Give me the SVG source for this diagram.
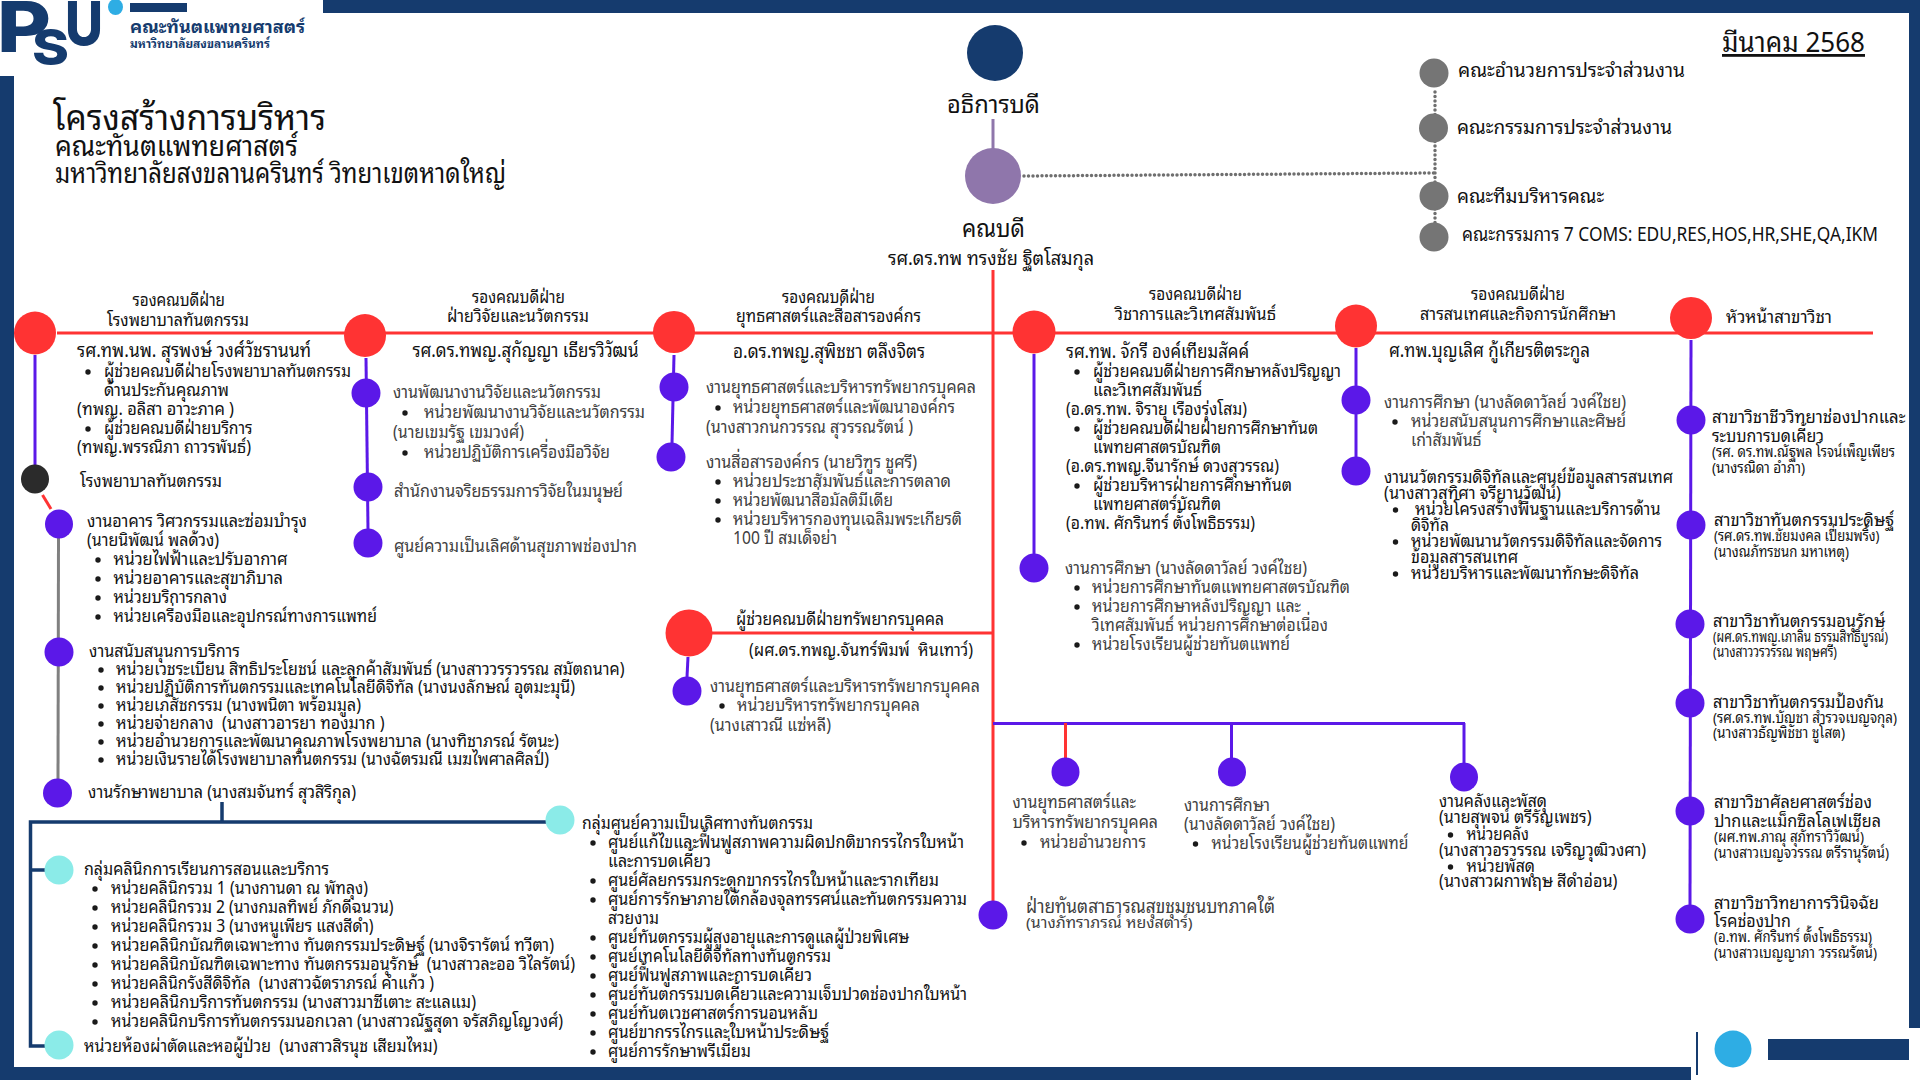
<svg xmlns="http://www.w3.org/2000/svg" width="1920" height="1080" viewBox="0 0 1920 1080">
<style>
text{font-family:"Noto Sans Thai Looped","Noto Sans Thai","Noto Sans","Liberation Sans",sans-serif;font-size:18px;fill:#111;white-space:pre}
.g{fill:#404040}
.s{font-size:15px}
.m{font-size:19px}
.h{font-size:20px}
.n{fill:#153b6e}
.nv{fill:#153b6e}
.red{fill:#f33}
.pur{fill:#5b18e8}
.teal{fill:#8bebe8}
.gry{fill:#757575}
.bu{fill:#1a1a1a}
.lr{stroke:#f33;stroke-width:3;fill:none}
.lp{stroke:#5b18e8;stroke-width:3;fill:none}
.ln{stroke:#153b6e;stroke-width:3.500;fill:none}
.lg{stroke:#808080;stroke-width:3;fill:none}
.ld{stroke:#6f6f6f;stroke-width:3.500;fill:none;stroke-dasharray:0 4.500;stroke-linecap:round}
</style>
<defs><circle id="b" r="2.7" class="bu"/></defs>
<rect width="1920" height="1080" fill="#fff"/>
<g id="frame">
<rect class="nv" x="323" y="0" width="1597" height="13"/>
<rect class="nv" x="0" y="76" width="14" height="1004"/>
<rect class="nv" x="1909" y="0" width="11" height="1028"/>
<rect class="nv" x="0" y="1067" width="1691" height="13"/>
<rect class="nv" x="1696" y="1032" width="2" height="43"/>
<circle cx="1733" cy="1049" r="18.5" fill="#2eade4"/>
<rect class="nv" x="1768" y="1039" width="141" height="21"/>
</g>
<g id="logo">
<text x="-3" y="52" class="n" style="font-family:'Inter';font-weight:800;font-size:70px" textLength="54" lengthAdjust="spacingAndGlyphs">P</text>
<text x="32" y="65" class="n" style="font-family:'Inter';font-weight:800;font-size:50px" textLength="37" lengthAdjust="spacingAndGlyphs">S</text>
<text x="65" y="45" class="n" style="font-family:'Inter';font-weight:800;font-size:60px" textLength="38" lengthAdjust="spacingAndGlyphs">U</text>
<ellipse cx="115.500" cy="7" rx="7.500" ry="8" fill="#2eade4"/>
<rect class="nv" x="130" y="3" width="57" height="9"/>
<text x="130" y="33" class="n" style="font-weight:700;font-size:17px" textLength="175" lengthAdjust="spacingAndGlyphs">คณะทันตแพทยศาสตร์</text>
<text x="130" y="48" class="n" style="font-weight:700;font-size:12px" textLength="140" lengthAdjust="spacingAndGlyphs">มหาวิทยาลัยสงขลานครินทร์</text>
</g>
<g id="title">
<text x="53" y="130" style="font-size:35px" textLength="273" lengthAdjust="spacingAndGlyphs">โครงสร้างการบริหาร</text>
<text x="55" y="156" style="font-size:28px" textLength="243" lengthAdjust="spacingAndGlyphs">คณะทันตแพทยศาสตร์</text>
<text x="55" y="183" style="font-size:28px" textLength="451" lengthAdjust="spacingAndGlyphs">มหาวิทยาลัยสงขลานครินทร์ วิทยาเขตหาดใหญ่</text>
<text x="1722" y="52" style="font-size:28px;text-decoration:underline" textLength="143" lengthAdjust="spacingAndGlyphs">มีนาคม 2568</text>
</g>
<g id="connectors">
<line class="lr" x1="57" y1="333" x2="1873" y2="333"/>
<line class="lr" x1="993" y1="270" x2="993" y2="902"/>
<line class="lr" x1="712" y1="633" x2="993" y2="633"/>
<line class="lp" x1="993" y1="723.500" x2="1465" y2="723.500"/>
<line class="lr" x1="1065.500" y1="723" x2="1065.500" y2="758"/>
<line class="lp" x1="1231.500" y1="723" x2="1231.500" y2="758"/>
<line class="lp" x1="1464" y1="723" x2="1464" y2="764"/>
<line x1="993" y1="119" x2="993" y2="150" stroke="#8f76ab" stroke-width="3"/>
<path class="ld" d="M1024 176 1435 173M1435 92V225"/>
<line class="lp" x1="35" y1="355" x2="35" y2="466"/>
<line class="lr" x1="42.500" y1="495" x2="51" y2="509"/>
<line class="lg" x1="58.500" y1="538" x2="58" y2="780"/>
<path class="ln" d="M222 802V822M547 822H30.500V1046H45M30.500 870H45"/>
<line class="lp" x1="366" y1="358" x2="368" y2="530"/>
<line class="lp" x1="674" y1="355" x2="672" y2="444"/>
<line class="lp" x1="688" y1="657" x2="687" y2="677"/>
<line class="lp" x1="1034" y1="354" x2="1034" y2="554"/>
<line class="lp" x1="1356" y1="348" x2="1356" y2="457"/>
<line class="lp" x1="1691" y1="340" x2="1690" y2="906"/>
</g>
<g id="rector">
<ellipse cx="995" cy="53" rx="28" ry="28" class="nv"/>
<text x="947" y="113" style="font-size:24px" textLength="93" lengthAdjust="spacingAndGlyphs">อธิการบดี</text>
</g>
<g id="dean">
<ellipse cx="993" cy="176" rx="28" ry="28" fill="#8f76ab"/>
<text x="962" y="237" style="font-size:24px" textLength="63" lengthAdjust="spacingAndGlyphs">คณบดี</text>
<text x="888" y="265" class="h" textLength="206" lengthAdjust="spacingAndGlyphs">รศ.ดร.ทพ ทรงชัย ฐิตโสมกุล</text>
</g>
<g id="committees">
<ellipse cx="1434" cy="73" rx="14.500" ry="14.500" class="gry"/>
<text x="1458" y="77" class="m" textLength="227" lengthAdjust="spacingAndGlyphs">คณะอำนวยการประจำส่วนงาน</text>
<ellipse cx="1433.500" cy="128" rx="14.500" ry="14.500" class="gry"/>
<text x="1457" y="134" class="m" textLength="215" lengthAdjust="spacingAndGlyphs">คณะกรรมการประจำส่วนงาน</text>
<ellipse cx="1434" cy="196" rx="14.500" ry="14.500" class="gry"/>
<text x="1457" y="203" class="m" textLength="147" lengthAdjust="spacingAndGlyphs">คณะทีมบริหารคณะ</text>
<ellipse cx="1434" cy="237" rx="14.500" ry="14.500" class="gry"/>
<text x="1462" y="241" class="m" textLength="416" lengthAdjust="spacingAndGlyphs">คณะกรรมการ 7 COMS: EDU,RES,HOS,HR,SHE,QA,IKM</text>
</g>
<g id="vd-hospital">
<ellipse cx="35" cy="333" rx="21" ry="21.500" class="red"/>
<text x="132.500" y="306" textLength="92.500" lengthAdjust="spacingAndGlyphs">รองคณบดีฝ่าย</text>
<text x="107" y="326" textLength="142" lengthAdjust="spacingAndGlyphs">โรงพยาบาลทันตกรรม</text>
<text x="77" y="357" class="m" textLength="234" lengthAdjust="spacingAndGlyphs">รศ.ทพ.นพ. สุรพงษ์ วงศ์วัชรานนท์</text>
<use href="#b" x="88" y="372"/><text x="104" y="377" textLength="247" lengthAdjust="spacingAndGlyphs">ผู้ช่วยคณบดีฝ่ายโรงพยาบาลทันตกรรม</text>
<text x="104" y="396" textLength="125" lengthAdjust="spacingAndGlyphs">ด้านประกันคุณภาพ</text>
<text x="77" y="415" textLength="157" lengthAdjust="spacingAndGlyphs">(ทพญ. อลิสา อาวะภาค )</text>
<use href="#b" x="88" y="429"/><text x="104" y="434" textLength="148.500" lengthAdjust="spacingAndGlyphs">ผู้ช่วยคณบดีฝ่ายบริการ</text>
<text x="77" y="453" textLength="174" lengthAdjust="spacingAndGlyphs">(ทพญ.พรรณิภา ถาวรพันธ์)</text>
</g>
<g id="hospital">
<ellipse cx="35" cy="479" rx="14" ry="14.500" fill="#2b2b2b"/>
<text x="80" y="487" textLength="142" lengthAdjust="spacingAndGlyphs">โรงพยาบาลทันตกรรม</text>
</g>
<g id="building">
<ellipse cx="59" cy="524" rx="14" ry="14.500" class="pur"/>
<text x="87" y="527" textLength="220" lengthAdjust="spacingAndGlyphs">งานอาคาร วิศวกรรมและซ่อมบำรุง</text>
<text x="87" y="546" textLength="132" lengthAdjust="spacingAndGlyphs">(นายนิพัฒน์ พลด้วง)</text>
<use href="#b" x="98" y="560"/><text x="113.500" y="565" textLength="174" lengthAdjust="spacingAndGlyphs">หน่วยไฟฟ้าและปรับอากาศ</text>
<use href="#b" x="98" y="579"/><text x="113.500" y="584" textLength="169.500" lengthAdjust="spacingAndGlyphs">หน่วยอาคารและสุขาภิบาล</text>
<use href="#b" x="98" y="598"/><text x="113.500" y="603" textLength="113.500" lengthAdjust="spacingAndGlyphs">หน่วยบริการกลาง</text>
<use href="#b" x="98" y="617"/><text x="113.500" y="622" textLength="263.500" lengthAdjust="spacingAndGlyphs">หน่วยเครื่องมือและอุปกรณ์ทางการแพทย์</text>
</g>
<g id="service-support">
<ellipse cx="59" cy="652" rx="14.500" ry="14.500" class="pur"/>
<text x="89" y="657" textLength="151" lengthAdjust="spacingAndGlyphs">งานสนับสนุนการบริการ</text>
<use href="#b" x="101" y="670"/><text x="116" y="675" textLength="508.500" lengthAdjust="spacingAndGlyphs">หน่วยเวชระเบียน สิทธิประโยชน์ และลูกค้าสัมพันธ์ (นางสาววรรวรรณ สมัตถนาค)</text>
<use href="#b" x="101" y="688"/><text x="116" y="693" textLength="459" lengthAdjust="spacingAndGlyphs">หน่วยปฏิบัติการทันตกรรมและเทคโนโลยีดิจิทัล (นางนงลักษณ์ อุตมะมุนี)</text>
<use href="#b" x="101" y="706"/><text x="116" y="711" textLength="245" lengthAdjust="spacingAndGlyphs">หน่วยเภสัชกรรม (นางพนิตา พร้อมมูล)</text>
<use href="#b" x="101" y="724"/><text x="116" y="729" textLength="268.500" lengthAdjust="spacingAndGlyphs">หน่วยจ่ายกลาง  (นางสาวอารยา ทองมาก )</text>
<use href="#b" x="101" y="742"/><text x="116" y="747" textLength="443" lengthAdjust="spacingAndGlyphs">หน่วยอำนวยการและพัฒนาคุณภาพโรงพยาบาล (นางทิชาภรณ์ รัตนะ)</text>
<use href="#b" x="101" y="760"/><text x="116" y="765" textLength="433" lengthAdjust="spacingAndGlyphs">หน่วยเงินรายได้โรงพยาบาลทันตกรรม (นางฉัตรมณี เมฆไพศาลศิลป์)</text>
</g>
<g id="nursing">
<ellipse cx="57.500" cy="793" rx="14.500" ry="14.500" class="pur"/>
<text x="88" y="798" textLength="268" lengthAdjust="spacingAndGlyphs">งานรักษาพยาบาล (นางสมจันทร์ สุวสิริกุล)</text>
</g>
<g id="clinics">
<ellipse cx="59" cy="870" rx="14.500" ry="14.500" class="teal"/>
<text x="84" y="875" textLength="245" lengthAdjust="spacingAndGlyphs">กลุ่มคลินิกการเรียนการสอนและบริการ</text>
<use href="#b" x="95" y="889"/><text x="111" y="894" textLength="257" lengthAdjust="spacingAndGlyphs">หน่วยคลินิกรวม 1 (นางกานดา ณ พัทลุง)</text>
<use href="#b" x="95" y="908"/><text x="111" y="913" textLength="282.500" lengthAdjust="spacingAndGlyphs">หน่วยคลินิกรวม 2 (นางกมลทิพย์ ภักดีฉนวน)</text>
<use href="#b" x="95" y="927"/><text x="111" y="932" textLength="262.500" lengthAdjust="spacingAndGlyphs">หน่วยคลินิกรวม 3 (นางหนูเพียร แสงสีดำ)</text>
<use href="#b" x="95" y="946"/><text x="111" y="951" textLength="443" lengthAdjust="spacingAndGlyphs">หน่วยคลินิกบัณฑิตเฉพาะทาง ทันตกรรมประดิษฐ์ (นางจิรารัตน์ ทวีตา)</text>
<use href="#b" x="95" y="965"/><text x="111" y="970" textLength="464" lengthAdjust="spacingAndGlyphs">หน่วยคลินิกบัณฑิตเฉพาะทาง ทันตกรรมอนุรักษ์  (นางสาวละออ วิไลรัตน์)</text>
<use href="#b" x="95" y="984"/><text x="111" y="989" textLength="323" lengthAdjust="spacingAndGlyphs">หน่วยคลินิกรังสีดิจิทัล  (นางสาวฉัตราภรณ์ คำแก้ว )</text>
<use href="#b" x="95" y="1003"/><text x="111" y="1008" textLength="365" lengthAdjust="spacingAndGlyphs">หน่วยคลินิกบริการทันตกรรม (นางสาวมาซีเตาะ สะแลแม)</text>
<use href="#b" x="95" y="1022"/><text x="111" y="1027" textLength="452" lengthAdjust="spacingAndGlyphs">หน่วยคลินิกบริการทันตกรรมนอกเวลา (นางสาวณัฐสุดา จรัสภิญโญวงศ์)</text>
</g>
<g id="or-ward">
<ellipse cx="59" cy="1045" rx="14.500" ry="14.500" class="teal"/>
<text x="84" y="1052" textLength="353.500" lengthAdjust="spacingAndGlyphs">หน่วยห้องผ่าตัดและหอผู้ป่วย  (นางสาวสิรนุช เสียมไหม)</text>
</g>
<g id="excellence">
<ellipse cx="560" cy="820" rx="14.500" ry="14.500" class="teal"/>
<text x="582" y="829" textLength="231" lengthAdjust="spacingAndGlyphs">กลุ่มศูนย์ความเป็นเลิศทางทันตกรรม</text>
<use href="#b" x="593" y="843"/><text x="608" y="848" textLength="356" lengthAdjust="spacingAndGlyphs">ศูนย์แก้ไขและฟื้นฟูสภาพความผิดปกติขากรรไกรใบหน้า</text>
<text x="608" y="867" textLength="103" lengthAdjust="spacingAndGlyphs">และการบดเคี้ยว</text>
<use href="#b" x="593" y="881"/><text x="608" y="886" textLength="331" lengthAdjust="spacingAndGlyphs">ศูนย์ศัลยกรรมกระดูกขากรรไกรใบหน้าและรากเทียม</text>
<use href="#b" x="593" y="900"/><text x="608" y="905" textLength="359" lengthAdjust="spacingAndGlyphs">ศูนย์การรักษาภายใต้กล้องจุลทรรศน์และทันตกรรมความ</text>
<text x="608" y="924" textLength="51" lengthAdjust="spacingAndGlyphs">สวยงาม</text>
<use href="#b" x="593" y="938"/><text x="608" y="943" textLength="301" lengthAdjust="spacingAndGlyphs">ศูนย์ทันตกรรมผู้สูงอายุและการดูแลผู้ป่วยพิเศษ</text>
<use href="#b" x="593" y="957"/><text x="608" y="962" textLength="223" lengthAdjust="spacingAndGlyphs">ศูนย์เทคโนโลยีดิจิทัลทางทันตกรรม</text>
<use href="#b" x="593" y="976"/><text x="608" y="981" textLength="204" lengthAdjust="spacingAndGlyphs">ศูนย์ฟื้นฟูสภาพและการบดเคี้ยว</text>
<use href="#b" x="593" y="995"/><text x="608" y="1000" textLength="359" lengthAdjust="spacingAndGlyphs">ศูนย์ทันตกรรมบดเคี้ยวและความเจ็บปวดช่องปากใบหน้า</text>
<use href="#b" x="593" y="1014"/><text x="608" y="1019" textLength="210" lengthAdjust="spacingAndGlyphs">ศูนย์ทันตเวชศาสตร์การนอนหลับ</text>
<use href="#b" x="593" y="1033"/><text x="608" y="1038" textLength="221" lengthAdjust="spacingAndGlyphs">ศูนย์ขากรรไกรและใบหน้าประดิษฐ์</text>
<use href="#b" x="593" y="1052"/><text x="608" y="1057" textLength="143" lengthAdjust="spacingAndGlyphs">ศูนย์การรักษาพรีเมี่ยม</text>
</g>
<g id="vd-research">
<ellipse cx="365" cy="335.500" rx="21" ry="21.500" class="red"/>
<text x="472" y="303" textLength="93" lengthAdjust="spacingAndGlyphs">รองคณบดีฝ่าย</text>
<text x="447" y="322" textLength="142" lengthAdjust="spacingAndGlyphs">ฝ่ายวิจัยและนวัตกรรม</text>
<text x="412.500" y="357" class="m" textLength="226" lengthAdjust="spacingAndGlyphs">รศ.ดร.ทพญ.สุกัญญา เธียรวิวัฒน์</text>
</g>
<g id="research-dev">
<ellipse cx="366" cy="393" rx="14.500" ry="14.500" class="pur"/>
<text x="393" y="398" class="g" textLength="208" lengthAdjust="spacingAndGlyphs">งานพัฒนางานวิจัยและนวัตกรรม</text>
<use href="#b" x="405" y="413"/><text x="424" y="418" class="g" textLength="221" lengthAdjust="spacingAndGlyphs">หน่วยพัฒนางานวิจัยและนวัตกรรม</text>
<text x="393" y="438" class="g" textLength="131" lengthAdjust="spacingAndGlyphs">(นายเขมรัฐ เขมวงศ์)</text>
<use href="#b" x="405" y="453"/><text x="424" y="458" class="g" textLength="186" lengthAdjust="spacingAndGlyphs">หน่วยปฏิบัติการเครื่องมือวิจัย</text>
</g>
<g id="ethics">
<ellipse cx="368" cy="487" rx="14.500" ry="14.500" class="pur"/>
<text x="394" y="497" class="g" textLength="229" lengthAdjust="spacingAndGlyphs">สำนักงานจริยธรรมการวิจัยในมนุษย์</text>
</g>
<g id="oral-health">
<ellipse cx="368" cy="543" rx="14.500" ry="14.500" class="pur"/>
<text x="394" y="552" class="g" textLength="243" lengthAdjust="spacingAndGlyphs">ศูนย์ความเป็นเลิศด้านสุขภาพช่องปาก</text>
</g>
<g id="vd-strategy">
<ellipse cx="674" cy="332" rx="21" ry="21" class="red"/>
<text x="782" y="303" textLength="93" lengthAdjust="spacingAndGlyphs">รองคณบดีฝ่าย</text>
<text x="736" y="322" textLength="185" lengthAdjust="spacingAndGlyphs">ยุทธศาสตร์และสื่อสารองค์กร</text>
<text x="733" y="358" class="m" textLength="192" lengthAdjust="spacingAndGlyphs">อ.ดร.ทพญ.สุพิชชา ตลึงจิตร</text>
</g>
<g id="strategy-hr">
<ellipse cx="674" cy="387" rx="14.500" ry="14.500" class="pur"/>
<text x="706" y="393" class="g" textLength="270" lengthAdjust="spacingAndGlyphs">งานยุทธศาสตร์และบริหารทรัพยากรบุคคล</text>
<use href="#b" x="718" y="408"/><text x="733" y="413" class="g" textLength="222" lengthAdjust="spacingAndGlyphs">หน่วยยุทธศาสตร์และพัฒนาองค์กร</text>
<text x="706" y="433" class="g" textLength="207" lengthAdjust="spacingAndGlyphs">(นางสาวกนกวรรณ สุวรรณรัตน์ )</text>
</g>
<g id="communication">
<ellipse cx="671" cy="457" rx="14.500" ry="14.500" class="pur"/>
<text x="706" y="468" class="g" textLength="211" lengthAdjust="spacingAndGlyphs">งานสื่อสารองค์กร (นายวิฑูร ชูศรี)</text>
<use href="#b" x="718" y="482"/><text x="733" y="487" class="g" textLength="218" lengthAdjust="spacingAndGlyphs">หน่วยประชาสัมพันธ์และการตลาด</text>
<use href="#b" x="718" y="501"/><text x="733" y="506" class="g" textLength="160" lengthAdjust="spacingAndGlyphs">หน่วยพัฒนาสื่อมัลติมีเดีย</text>
<use href="#b" x="718" y="520"/><text x="733" y="525" class="g" textLength="229" lengthAdjust="spacingAndGlyphs">หน่วยบริหารกองทุนเฉลิมพระเกียรติ</text>
<text x="733" y="544" class="g" textLength="104" lengthAdjust="spacingAndGlyphs">100 ปี สมเด็จย่า</text>
</g>
<g id="ad-hr">
<ellipse cx="689" cy="633" rx="23.500" ry="23.500" class="red"/>
<text x="736" y="625" textLength="208" lengthAdjust="spacingAndGlyphs">ผู้ช่วยคณบดีฝ่ายทรัพยากรบุคคล</text>
<text x="749" y="656" textLength="224" lengthAdjust="spacingAndGlyphs">(ผศ.ดร.ทพญ.จันทร์พิมพ์  หินเทาว์)</text>
</g>
<g id="hr-office">
<ellipse cx="687" cy="691" rx="14.500" ry="14.500" class="pur"/>
<text x="710" y="692" class="g" textLength="270" lengthAdjust="spacingAndGlyphs">งานยุทธศาสตร์และบริหารทรัพยากรบุคคล</text>
<use href="#b" x="722" y="706"/><text x="737" y="711" class="g" textLength="183" lengthAdjust="spacingAndGlyphs">หน่วยบริหารทรัพยากรบุคคล</text>
<text x="710" y="731" class="g" textLength="121" lengthAdjust="spacingAndGlyphs">(นางเสาวณี แซ่หลี)</text>
</g>
<g id="dean-strategy">
<ellipse cx="1065.500" cy="772" rx="14" ry="14.500" class="pur"/>
<text x="1012.500" y="808" class="g" textLength="123.500" lengthAdjust="spacingAndGlyphs">งานยุทธศาสตร์และ</text>
<text x="1012.500" y="828" class="g" textLength="145.500" lengthAdjust="spacingAndGlyphs">บริหารทรัพยากรบุคคล</text>
<use href="#b" x="1024" y="843"/><text x="1040" y="848" class="g" textLength="106" lengthAdjust="spacingAndGlyphs">หน่วยอำนวยการ</text>
</g>
<g id="dean-education">
<ellipse cx="1232" cy="772" rx="14" ry="14.500" class="pur"/>
<text x="1184" y="811" class="g" textLength="86" lengthAdjust="spacingAndGlyphs">งานการศึกษา</text>
<text x="1184" y="830" class="g" textLength="151" lengthAdjust="spacingAndGlyphs">(นางลัดดาวัลย์ วงค์ไชย)</text>
<use href="#b" x="1195.500" y="844"/><text x="1211.500" y="849" class="g" textLength="197" lengthAdjust="spacingAndGlyphs">หน่วยโรงเรียนผู้ช่วยทันตแพทย์</text>
</g>
<g id="dean-supply">
<ellipse cx="1464" cy="777" rx="14" ry="14.500" class="pur"/>
<text x="1439" y="807" textLength="108" lengthAdjust="spacingAndGlyphs">งานคลังและพัสดุ</text>
<text x="1439" y="823" textLength="152.500" lengthAdjust="spacingAndGlyphs">(นายสุพจน์ ตรีรัญเพชร)</text>
<use href="#b" x="1450.500" y="835"/><text x="1466.500" y="840" textLength="62.500" lengthAdjust="spacingAndGlyphs">หน่วยคลัง</text>
<text x="1439" y="856" textLength="207" lengthAdjust="spacingAndGlyphs">(นางสาวอรวรรณ เจริญวุฒิวงศา)</text>
<use href="#b" x="1450.500" y="867"/><text x="1466.500" y="872" textLength="68.500" lengthAdjust="spacingAndGlyphs">หน่วยพัสดุ</text>
<text x="1439" y="887" textLength="178.500" lengthAdjust="spacingAndGlyphs">(นางสาวผกาพฤษ สีดำอ่อน)</text>
</g>
<g id="public-health">
<ellipse cx="993" cy="915" rx="14.500" ry="14.500" class="pur"/>
<text x="1026" y="913" class="g h" textLength="249" lengthAdjust="spacingAndGlyphs">ฝ่ายทันตสาธารณสุขชุมชนบทภาคใต้</text>
<text x="1026" y="928" class="g s" textLength="166.500" lengthAdjust="spacingAndGlyphs">(นางภัทราภรณ์ หยงสตาร์)</text>
</g>
<g id="vd-academic">
<ellipse cx="1034" cy="332" rx="21.500" ry="21.500" class="red"/>
<text x="1149" y="300" textLength="93" lengthAdjust="spacingAndGlyphs">รองคณบดีฝ่าย</text>
<text x="1115" y="320" textLength="161" lengthAdjust="spacingAndGlyphs">วิชาการและวิเทศสัมพันธ์</text>
<text x="1066" y="358" class="m" textLength="183" lengthAdjust="spacingAndGlyphs">รศ.ทพ. จักรี องค์เทียมสัคค์</text>
<use href="#b" x="1077" y="372"/><text x="1093" y="377" textLength="248" lengthAdjust="spacingAndGlyphs">ผู้ช่วยคณบดีฝ่ายการศึกษาหลังปริญญา</text>
<text x="1093" y="396" textLength="109" lengthAdjust="spacingAndGlyphs">และวิเทศสัมพันธ์</text>
<text x="1066" y="415" textLength="181" lengthAdjust="spacingAndGlyphs">(อ.ดร.ทพ. จิรายุ เรืองรุ่งโสม)</text>
<use href="#b" x="1077" y="429"/><text x="1093" y="434" textLength="225" lengthAdjust="spacingAndGlyphs">ผู้ช่วยคณบดีฝ่ายฝ่ายการศึกษาทันต</text>
<text x="1093" y="453" textLength="128" lengthAdjust="spacingAndGlyphs">แพทยศาสตรบัณฑิต</text>
<text x="1066" y="472" textLength="213" lengthAdjust="spacingAndGlyphs">(อ.ดร.ทพญ.จีนารักษ์ ดวงสุวรรณ)</text>
<use href="#b" x="1077" y="486"/><text x="1093" y="491" textLength="199" lengthAdjust="spacingAndGlyphs">ผู้ช่วยบริหารฝ่ายการศึกษาทันต</text>
<text x="1093" y="510" textLength="128" lengthAdjust="spacingAndGlyphs">แพทยศาสตร์บัณฑิต</text>
<text x="1066" y="529" textLength="189" lengthAdjust="spacingAndGlyphs">(อ.ทพ. ศักรินทร์ ตั้งโพธิธรรม)</text>
</g>
<g id="education">
<ellipse cx="1034" cy="568" rx="14.500" ry="14.500" class="pur"/>
<text x="1065" y="574" class="g" textLength="242" lengthAdjust="spacingAndGlyphs">งานการศึกษา (นางลัดดาวัลย์ วงค์ไชย)</text>
<use href="#b" x="1077" y="588"/><text x="1092" y="593" class="g" textLength="258" lengthAdjust="spacingAndGlyphs">หน่วยการศึกษาทันตแพทยศาสตรบัณฑิต</text>
<use href="#b" x="1077" y="607"/><text x="1092" y="612" class="g" textLength="209" lengthAdjust="spacingAndGlyphs">หน่วยการศึกษาหลังปริญญา และ</text>
<text x="1092" y="631" class="g" textLength="236" lengthAdjust="spacingAndGlyphs">วิเทศสัมพันธ์ หน่วยการศึกษาต่อเนื่อง</text>
<use href="#b" x="1077" y="645"/><text x="1092" y="650" class="g" textLength="198" lengthAdjust="spacingAndGlyphs">หน่วยโรงเรียนผู้ช่วยทันตแพทย์</text>
</g>
<g id="vd-it">
<ellipse cx="1356" cy="326" rx="21" ry="21.500" class="red"/>
<text x="1471" y="300" textLength="94" lengthAdjust="spacingAndGlyphs">รองคณบดีฝ่าย</text>
<text x="1420" y="320" textLength="196" lengthAdjust="spacingAndGlyphs">สารสนเทศและกิจการนักศึกษา</text>
<text x="1389" y="357" class="m" textLength="201" lengthAdjust="spacingAndGlyphs">ศ.ทพ.บุญเลิศ กู้เกียรติตระกูล</text>
</g>
<g id="student-edu">
<ellipse cx="1356" cy="400" rx="14.500" ry="14.500" class="pur"/>
<text x="1384" y="408" class="g" textLength="242" lengthAdjust="spacingAndGlyphs">งานการศึกษา (นางลัดดาวัลย์ วงค์ไชย)</text>
<use href="#b" x="1395" y="422"/><text x="1411" y="427" class="g" textLength="215" lengthAdjust="spacingAndGlyphs">หน่วยสนับสนุนการศึกษาและศิษย์</text>
<text x="1411" y="446" class="g" textLength="70.500" lengthAdjust="spacingAndGlyphs">เก่าสัมพันธ์</text>
</g>
<g id="digital">
<ellipse cx="1356" cy="471" rx="14.500" ry="14.500" class="pur"/>
<text x="1384" y="483" textLength="289" lengthAdjust="spacingAndGlyphs">งานนวัตกรรมดิจิทัลและศูนย์ข้อมูลสารสนเทศ</text>
<text x="1384" y="499" textLength="177" lengthAdjust="spacingAndGlyphs">(นางสาวสุทิศา จรียานุวัฒน์)</text>
<use href="#b" x="1395.500" y="510"/><text x="1415" y="515" textLength="245.500" lengthAdjust="spacingAndGlyphs">หน่วยโครงสร้างพื้นฐานและบริการด้าน</text>
<text x="1411" y="531" textLength="38" lengthAdjust="spacingAndGlyphs">ดิจิทัล</text>
<use href="#b" x="1395.500" y="542"/><text x="1411" y="547" textLength="251" lengthAdjust="spacingAndGlyphs">หน่วยพัฒนานวัตกรรมดิจิทัลและจัดการ</text>
<text x="1411" y="563" textLength="107" lengthAdjust="spacingAndGlyphs">ข้อมูลสารสนเทศ</text>
<use href="#b" x="1395.500" y="574"/><text x="1411" y="579" textLength="228" lengthAdjust="spacingAndGlyphs">หน่วยบริหารและพัฒนาทักษะดิจิทัล</text>
</g>
<g id="heads">
<ellipse cx="1691" cy="318" rx="21" ry="21" class="red"/>
<text x="1726" y="323" textLength="106" lengthAdjust="spacingAndGlyphs">หัวหน้าสาขาวิชา</text>
</g>
<g id="dept-biology">
<ellipse cx="1691" cy="420" rx="14.500" ry="14.500" class="pur"/>
<text x="1712" y="423" textLength="193.500" lengthAdjust="spacingAndGlyphs">สาขาวิชาชีววิทยาช่องปากและ</text>
<text x="1712" y="442" textLength="112" lengthAdjust="spacingAndGlyphs">ระบบการบดเคี้ยว</text>
<text x="1712" y="457" class="s" textLength="183" lengthAdjust="spacingAndGlyphs">(รศ. ดร.ทพ.ณัฐพล โรจน์เพ็ญเพียร</text>
<text x="1712" y="473" class="s" textLength="93" lengthAdjust="spacingAndGlyphs">(นางรณิดา อำภา)</text>
</g>
<g id="dept-prosth">
<ellipse cx="1691" cy="525" rx="14.500" ry="14.500" class="pur"/>
<text x="1714" y="526" textLength="180" lengthAdjust="spacingAndGlyphs">สาขาวิชาทันตกรรมประดิษฐ์</text>
<text x="1714" y="541" class="s" textLength="165.500" lengthAdjust="spacingAndGlyphs">(รศ.ดร.ทพ.ชัยมงคล เปี่ยมพริ้ง)</text>
<text x="1714" y="557" class="s" textLength="135" lengthAdjust="spacingAndGlyphs">(นางณภัทรชนก มหาเหตุ)</text>
</g>
<g id="dept-conserv">
<ellipse cx="1690" cy="624" rx="14.500" ry="14.500" class="pur"/>
<text x="1713" y="627" textLength="172" lengthAdjust="spacingAndGlyphs">สาขาวิชาทันตกรรมอนุรักษ์</text>
<text x="1713" y="642" class="s" textLength="175" lengthAdjust="spacingAndGlyphs">(ผศ.ดร.ทพญ.เภาลิน ธรรมสิทธิ์บูรณ์)</text>
<text x="1713" y="657" class="s" textLength="124" lengthAdjust="spacingAndGlyphs">(นางสาววรวรรณ พฤษศรี)</text>
</g>
<g id="dept-prevent">
<ellipse cx="1690" cy="703" rx="14.500" ry="14.500" class="pur"/>
<text x="1713" y="708" textLength="171" lengthAdjust="spacingAndGlyphs">สาขาวิชาทันตกรรมป้องกัน</text>
<text x="1713" y="723" class="s" textLength="184" lengthAdjust="spacingAndGlyphs">(รศ.ดร.ทพ.บัญชา สำรวจเบญจกุล)</text>
<text x="1713" y="738" class="s" textLength="132" lengthAdjust="spacingAndGlyphs">(นางสาวธัญพิชชา ชูโสต)</text>
</g>
<g id="dept-surgery">
<ellipse cx="1690" cy="811" rx="14.500" ry="14.500" class="pur"/>
<text x="1714" y="808" textLength="158" lengthAdjust="spacingAndGlyphs">สาขาวิชาศัลยศาสตร์ช่อง</text>
<text x="1714" y="827" textLength="167" lengthAdjust="spacingAndGlyphs">ปากและแม็กซิลโลเฟเชียล</text>
<text x="1714" y="842" class="s" textLength="150" lengthAdjust="spacingAndGlyphs">(ผศ.ทพ.ภาณุ สุภัทราวิวัฒน์)</text>
<text x="1714" y="858" class="s" textLength="175" lengthAdjust="spacingAndGlyphs">(นางสาวเบญจวรรณ ตรีรานุรัตน์)</text>
</g>
<g id="dept-diagnosis">
<ellipse cx="1690" cy="919" rx="14.500" ry="14.500" class="pur"/>
<text x="1714" y="909" textLength="165" lengthAdjust="spacingAndGlyphs">สาขาวิชาวิทยาการวินิจฉัย</text>
<text x="1714" y="927" textLength="77" lengthAdjust="spacingAndGlyphs">โรคช่องปาก</text>
<text x="1714" y="942" class="s" textLength="158" lengthAdjust="spacingAndGlyphs">(อ.ทพ. ศักรินทร์ ตั้งโพธิธรรม)</text>
<text x="1714" y="958" class="s" textLength="163" lengthAdjust="spacingAndGlyphs">(นางสาวเบญญาภา วรรณรัตน์)</text>
</g>
</svg>
